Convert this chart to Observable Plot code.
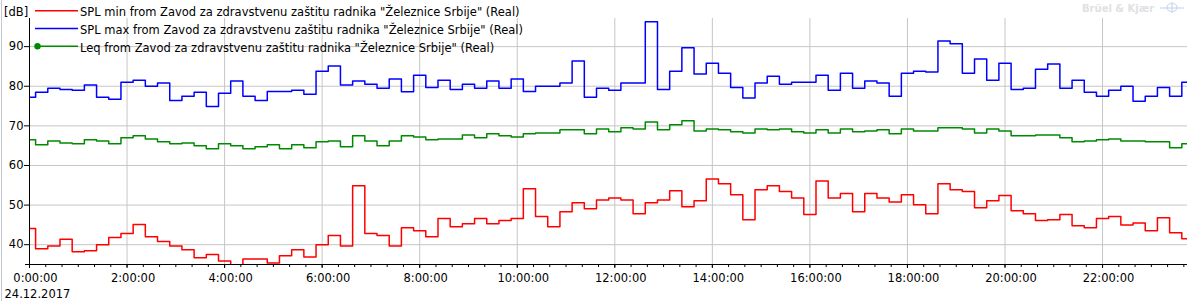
<!DOCTYPE html>
<html>
<head>
<meta charset="utf-8">
<script src="https://cdn.jsdelivr.net/npm/d3@7"></script>
<script src="https://cdn.jsdelivr.net/npm/@observablehq/plot@0.6"></script>
<style>
  html, body { margin: 0; padding: 0; background: #fff; }
  #wrap { position: relative; width: 1193px; height: 301px; overflow: hidden; }
  #edge { position: absolute; left: 1px; top: 0; width: 1px; height: 301px; background: #c3c9d4; }
</style>
</head>
<body>
<div id="wrap"><div id="edge"></div></div>
<script>
// ---- data: 15-minute intervals, 24.12.2017 (interval k centred on k*15 min) ----
const dateLabel = "24.12.2017";
const yUnit = "[dB]";
const seriesNames = [
  'SPL min from Zavod za zdravstvenu zaštitu radnika "Železnice Srbije" (Real)',
  'SPL max from Zavod za zdravstvenu zaštitu radnika "Železnice Srbije" (Real)',
  'Leq from Zavod za zdravstvenu zaštitu radnika "Železnice Srbije" (Real)'
];
const seriesColors = ["#ff0000", "#0000ff", "#008a00"];

const splMin = [
  44.1, 39.0, 39.7, 41.4, 38.2, 38.5, 40.0, 41.8, 42.8, 45.1, 42.0, 40.8, 39.7, 38.7, 36.7, 37.5,
  35.9, 34.4, 36.4, 36.4, 35.4, 37.2, 38.7, 36.9, 40.0, 42.3, 39.7, 54.9, 42.8, 42.3, 39.7,
  44.3, 43.5, 42.0, 46.6, 44.5, 45.3, 46.6, 45.3, 46.1, 46.6, 54.1, 47.1, 44.5, 48.3, 50.6, 49.1,
  51.3, 51.8, 51.3, 47.8, 50.6, 51.3, 53.6, 49.6, 51.1, 56.6, 55.4, 52.6, 46.3, 53.9, 54.9, 53.4, 51.8,
  47.6, 56.1, 51.8, 52.9, 48.3, 52.9, 51.8, 50.8, 52.6, 50.1, 47.8, 55.4, 53.9, 53.4, 49.3, 51.1,
  52.4, 48.6, 47.8, 46.1, 46.3, 47.6, 44.8, 44.3, 46.6, 47.1, 45.0, 45.5, 43.5, 46.8, 43.0, 41.5
];
const splMax = [
  77.2, 78.5, 79.5, 79.2, 79.0, 80.3, 77.2, 76.7, 81.0, 81.5, 80.0, 80.8, 76.4, 77.5, 78.5, 74.9,
  78.2, 81.3, 77.5, 76.4, 78.7, 78.7, 79.0, 78.0, 83.8, 85.1, 80.3, 81.3, 80.5, 79.5, 81.8,
  78.6, 82.8, 79.7, 81.5, 79.2, 80.5, 79.5, 81.3, 79.5, 81.8, 78.7, 80.0, 80.0, 80.8, 86.4, 77.2,
  79.5, 79.0, 80.8, 80.8, 96.3, 79.2, 83.8, 89.7, 83.1, 85.8, 83.3, 79.7, 77.0, 80.8, 82.5, 80.5, 81.0,
  81.0, 82.8, 79.0, 83.3, 79.5, 81.3, 80.8, 77.5, 83.3, 83.8, 83.6, 91.4, 90.7, 83.3, 86.9, 81.5,
  85.8, 79.2, 79.5, 84.3, 85.6, 79.5, 81.5, 78.5, 77.5, 79.0, 80.0, 76.2, 77.5, 79.7, 77.5, 81.0
];
const leq = [
  66.5, 65.2, 66.2, 65.7, 65.5, 66.5, 66.2, 65.5, 67.0, 67.5, 66.7, 66.0, 65.5, 65.7, 65.0, 64.2,
  65.5, 65.0, 64.2, 64.7, 65.2, 64.2, 65.2, 64.5, 66.0, 66.2, 64.7, 67.5, 66.2, 65.0, 66.2,
  67.5, 67.2, 66.5, 66.7, 66.7, 67.7, 67.0, 68.0, 67.5, 67.2, 68.0, 68.2, 68.2, 69.0, 69.0, 68.0,
  69.2, 68.5, 69.5, 69.2, 71.0, 69.0, 70.3, 71.3, 68.7, 69.2, 69.0, 68.5, 68.2, 69.2, 69.0, 69.2, 68.5,
  68.2, 69.0, 68.2, 69.2, 68.5, 68.7, 69.0, 68.0, 69.2, 68.7, 68.7, 69.5, 69.5, 69.2, 68.2, 69.2,
  68.7, 67.5, 67.5, 67.7, 67.7, 67.0, 66.0, 66.2, 66.5, 66.7, 66.2, 66.2, 66.0, 66.0, 64.5, 65.5
];
const yTicks = [40, 50, 60, 70, 80, 90];

// ---- build rows ----
const base = Date.UTC(2017, 11, 24);
const MIN = 60000;
const intervalStart = k => new Date(base + (k * 15 - 7.5) * MIN);
function rows(values, name) {
  const r = values.map((v, k) => ({ t: intervalStart(k), v, name }));
  r.push({ t: intervalStart(values.length), v: values[values.length - 1], name });
  return r;
}
const data = [
  ...rows(splMin, seriesNames[0]),
  ...rows(splMax, seriesNames[1]),
  ...rows(leq, seriesNames[2])
];

const xStart = new Date(base);
const xEnd = new Date(base + (23 * 60 + 44.5) * MIN);
const xMajor = d3.utcHour.every(2).range(xStart, xEnd);
const xMinor = d3.utcMinute.every(20).range(xStart, xEnd);
const fmt = d => `${d.getUTCHours()}:${String(d.getUTCMinutes()).padStart(2, "0")}:00`;
const FS = 11.5;

const chart = Plot.plot({
  width: 1193,
  height: 301,
  marginLeft: 29,
  marginRight: 6,
  marginTop: 18,
  marginBottom: 37,
  style: { fontFamily: "DejaVu Sans", fontSize: FS + "px", color: "#000", background: "transparent", overflow: "visible" },
  x: { type: "utc", domain: [xStart, xEnd], axis: null },
  y: { domain: [35, 97.1], axis: null },
  color: { domain: seriesNames, range: seriesColors },
  marks: [
    Plot.gridY(yTicks, { stroke: "#c6c6c6", strokeOpacity: 1 }),
    Plot.gridX(xMajor, { stroke: "#c6c6c6", strokeOpacity: 1 }),
    Plot.line(data, { x: "t", y: "v", z: "name", stroke: "name", curve: "step-after", strokeWidth: 1.5, clip: true }),
    Plot.axisY(yTicks, { tickSize: 5, tickPadding: 1, stroke: "#000", fill: "#000", label: null }),
    Plot.axisX(xMinor, { tickSize: 3, tickFormat: () => "", stroke: "#000", label: null }),
    Plot.axisX(xMajor, { tickSize: 4, tickFormat: () => "", stroke: "#000", label: null }),
    Plot.axisX(xMajor, { tickSize: 0, tickPadding: 9, dx: 6, tickFormat: fmt, fill: "#000", label: null }),
    Plot.ruleX([xStart], { stroke: "#000" }),
    Plot.ruleY([35], { stroke: "#000", insetLeft: -4 })
  ]
});
document.getElementById("wrap").appendChild(chart);

// ---- legend, unit, date, watermark (decorations) ----
const svg = d3.select(chart);
const ff = "DejaVu Sans";
function txt(x, y, s, size = FS) {
  return svg.append("text").attr("x", x).attr("y", y).attr("font-family", ff).attr("font-size", size)
    .attr("text-anchor", "start").attr("fill", "#000").text(s);
}
txt(4, 15.7, yUnit);
const lg = svg.append("g");
seriesNames.forEach((name, i) => {
  const y = 10.7 + i * 17.8;
  lg.append("line").attr("x1", 35).attr("x2", 78).attr("y1", y).attr("y2", y)
    .attr("stroke", seriesColors[i]).attr("stroke-width", 1.5);
  if (i === 2) lg.append("circle").attr("cx", 37.5).attr("cy", y).attr("r", 3.2).attr("fill", seriesColors[i]);
  txt(80, y + 5.3, name);
});
txt(4.5, 298, dateLabel);
txt(1082, 11.8, "Brüel & Kjær", 10).attr("font-weight", "bold").attr("fill", "#dfe1e4");
const logo = svg.append("g").attr("fill", "none").attr("stroke", "#c9d9ee").attr("stroke-width", 1.2);
logo.append("ellipse").attr("cx", 1172).attr("cy", 7.5).attr("rx", 5).attr("ry", 4);
logo.append("line").attr("x1", 1160).attr("x2", 1184).attr("y1", 8).attr("y2", 8);
logo.append("line").attr("x1", 1172).attr("x2", 1172).attr("y1", 2).attr("y2", 13);
</script>
</body>
</html>
